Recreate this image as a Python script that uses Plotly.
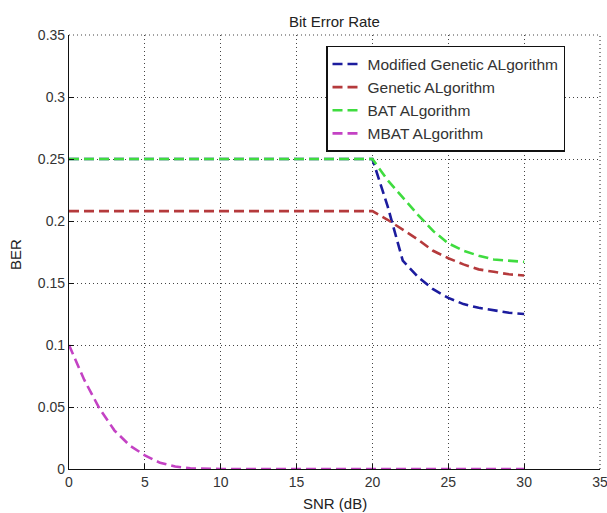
import plotly.graph_objects as go

# SNR sweep (dB)
snr = list(range(0, 31))

# BER per algorithm, one value per SNR step
ber_modified_ga = [0.25] * 21 + [0.212, 0.168, 0.155, 0.145, 0.138, 0.133, 0.130, 0.128, 0.126, 0.125]
ber_ga = [0.208] * 21 + [0.201, 0.193, 0.185, 0.176, 0.170, 0.165, 0.161, 0.159, 0.157, 0.156]
ber_bat = [0.25] * 21 + [0.233, 0.219, 0.205, 0.192, 0.182, 0.176, 0.172, 0.169, 0.168, 0.167]
ber_mbat = [0.10, 0.072, 0.049, 0.031, 0.019, 0.011, 0.005, 0.002, 0.0005] + [0.0] * 22

series_names = ["Modified Genetic ALgorithm", "Genetic ALgorithm", "BAT ALgorithm", "MBAT ALgorithm"]
series_values = [ber_modified_ga, ber_ga, ber_bat, ber_mbat]
series_colors = ["#1c1c9e", "#b53a3c", "#3fdc3f", "#c442c4"]

x_ticks = [0, 5, 10, 15, 20, 25, 30, 35]
y_ticks = [0, 0.05, 0.1, 0.15, 0.2, 0.25, 0.3, 0.35]
y_tick_labels = ["0", "0.05", "0.1", "0.15", "0.2", "0.25", "0.3", "0.35"]

FONT = "Liberation Sans, Arial, sans-serif"

fig = go.Figure()
for name, vals, col in zip(series_names, series_values, series_colors):
    fig.add_trace(go.Scatter(
        x=snr, y=vals, mode="lines", name=name, legendgroup=name,
        line=dict(color=col, width=2.6, dash="10px,5px"),
    ))

axis_common = dict(
    showline=True, linecolor="#111", linewidth=1.2,
    ticks="inside", ticklen=5, tickcolor="#111",
    showgrid=True, gridcolor="#444", griddash="1px,3px", gridwidth=1.2,
    zeroline=False,
    tickfont=dict(family=FONT, size=14, color="#333"),
    ticklabeloverflow="allow",
    automargin=False,
)

fig.update_xaxes(range=[0, 35], tickvals=x_ticks, ticktext=[str(t) for t in x_ticks], **axis_common)
fig.update_yaxes(range=[0, 0.35], tickvals=y_ticks, ticktext=y_tick_labels, **axis_common)

# dotted frame on the top and right edges
fig.add_shape(type="line", xref="paper", yref="paper", x0=0, x1=1, y0=1, y1=1,
              line=dict(color="#444", width=1.2, dash="1px,3px"))
fig.add_shape(type="line", xref="paper", yref="paper", x0=1, x1=1, y0=0, y1=1,
              line=dict(color="#444", width=1.2, dash="1px,3px"))

fig.add_annotation(text="Bit Error Rate", xref="paper", yref="paper", x=0.5, y=1,
                   xanchor="center", yanchor="middle", yshift=14, showarrow=False,
                   font=dict(family=FONT, size=15, color="#222"))
fig.add_annotation(text="SNR (dB)", xref="paper", yref="paper", x=0.5, y=0,
                   xanchor="center", yanchor="middle", yshift=-34, showarrow=False,
                   font=dict(family=FONT, size=15, color="#222"))
fig.add_annotation(text="BER", xref="paper", yref="paper", x=0, y=0.493,
                   xanchor="center", yanchor="middle", xshift=-54, textangle=-90,
                   showarrow=False, font=dict(family=FONT, size=15, color="#222"))

fig.update_layout(
    width=607, height=513,
    margin=dict(l=69, r=7, t=35, b=44, autoexpand=False),
    paper_bgcolor="white", plot_bgcolor="white",
    showlegend=True,
    legend=dict(
        x=0.484, y=0.975, xanchor="left", yanchor="top",
        bgcolor="white", bordercolor="#111", borderwidth=1.5,
        font=dict(family=FONT, size=15.5, color="#333"),
        traceorder="grouped", tracegroupgap=0,
        entrywidth=232, entrywidthmode="pixels",
    ),
)

fig.write_html("out.html")
